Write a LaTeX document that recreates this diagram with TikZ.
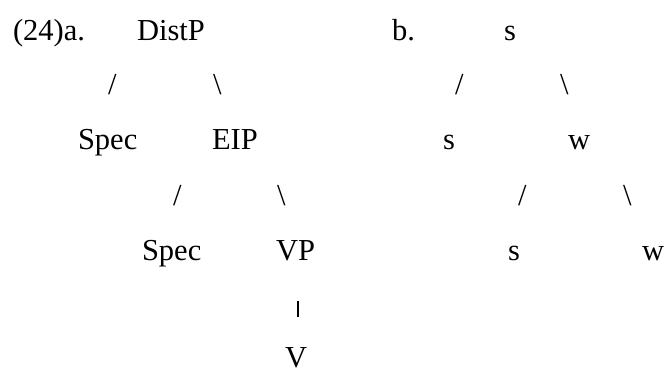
\documentclass[tikz,border=0pt]{standalone}
\usepackage{fontspec}
\setmainfont{Liberation Serif}
\begin{document}
\begin{tikzpicture}[x=1pt,y=1pt,
  txt/.style={anchor=base west,inner sep=0pt,outer sep=0pt,font=\fontsize{30.5}{36}\selectfont}]
\useasboundingbox (0,0) rectangle (665,369);
% row 1
\node[txt] (ex)    at (13,328) {(24)a.};
\node[txt] (distp) at (137,328) {DistP};
\node[txt] (exb)   at (392,328) {b.};
\node[txt] (bs1)   at (504,328) {s};
% row 2
\node[txt] (sl1) at (108,274) {/};
\node[txt] (bl1) at (213,274) {\textbackslash};
\node[txt] (sl2) at (455,274) {/};
\node[txt] (bl2) at (560,274) {\textbackslash};
% row 3
\node[txt] (spec1) at (78,219) {Spec};
\node[txt] (eip)   at (212,219) {EIP};
\node[txt] (bs2)   at (443,219) {s};
\node[txt] (bw1)   at (568,219) {w};
% row 4
\node[txt] (sl3) at (173,163) {/};
\node[txt] (bl3) at (277,163) {\textbackslash};
\node[txt] (sl4) at (518,163) {/};
\node[txt] (bl4) at (623,163) {\textbackslash};
% row 5
\node[txt] (spec2) at (142,108) {Spec};
\node[txt] (vp)    at (276,108) {VP};
\node[txt] (bs3)   at (508,108) {s};
\node[txt] (bw2)   at (642,108) {w};
% row 6
\node[anchor=south west,inner sep=0pt] (bar) at (296.5,52) {\rule{2.4pt}{16pt}};
% row 7
\node[txt] (v) at (285,1.5) {V};
\end{tikzpicture}
\end{document}
